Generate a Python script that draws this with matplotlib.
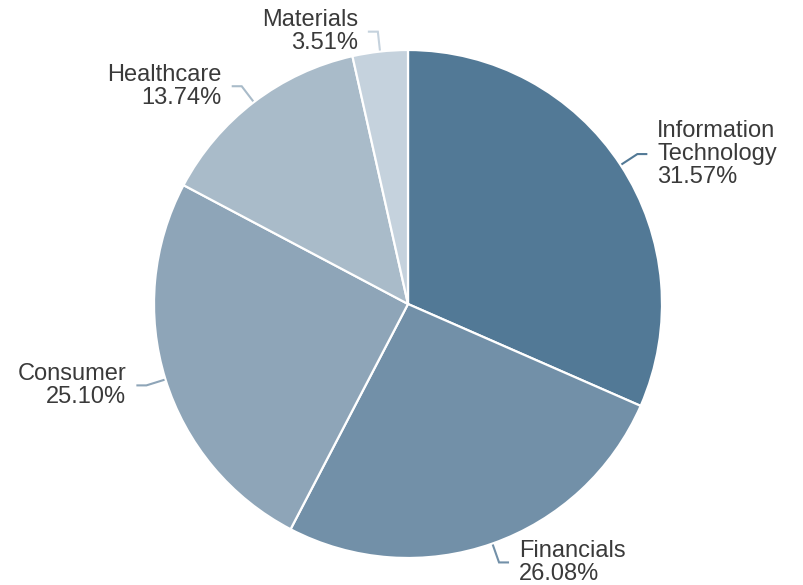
import numpy as np
import matplotlib
matplotlib.use("Agg")
import matplotlib.pyplot as plt

categories = ["Information\nTechnology", "Financials", "Consumer", "Healthcare", "Materials"]
values = [31.57, 26.08, 25.10, 13.74, 3.51]
colors = ["#527996", "#7290a8", "#8ea5b8", "#a9bbc9", "#c5d2dd"]

W, H = 804, 585
fig = plt.figure(figsize=(W / 100, H / 100), dpi=100)
ax = fig.add_axes([0, 0, 1, 1])
cx, cy, R = 408, H - 304, 254

wedges, _ = ax.pie(values, startangle=90, counterclock=False, center=(cx, cy),
                   radius=R, colors=colors,
                   wedgeprops=dict(edgecolor="white", linewidth=1.6))
ax.set_xlim(0, W)
ax.set_ylim(0, H)
ax.set_aspect("auto")
ax.axis("off")

for w, cat, v, col in zip(wedges, categories, values, colors):
    mid = np.deg2rad((w.theta1 + w.theta2) / 2)
    ca, sa = np.cos(mid), np.sin(mid)
    p0 = (cx + (R + 1) * ca, cy + (R + 1) * sa)
    p1 = (cx + (R + 20) * ca, cy + (R + 20) * sa)
    side = 1 if ca >= 0 else -1
    p2 = (p1[0] + 10 * side, p1[1])
    ax.plot([p0[0], p1[0], p2[0]], [p0[1], p1[1], p2[1]], color=col, lw=1.5,
            solid_capstyle="butt", solid_joinstyle="miter")
    ax.text(p2[0] + 10 * side, p1[1], f"{cat}\n{v:.2f}%",
            ha="left" if side > 0 else "right", va="center",
            multialignment="left" if side > 0 else "right",
            fontsize=17, color="#3a3a3a", family=["Liberation Sans", "DejaVu Sans"],
            linespacing=1.06)

fig.savefig("out.png", dpi=100, facecolor="white")
